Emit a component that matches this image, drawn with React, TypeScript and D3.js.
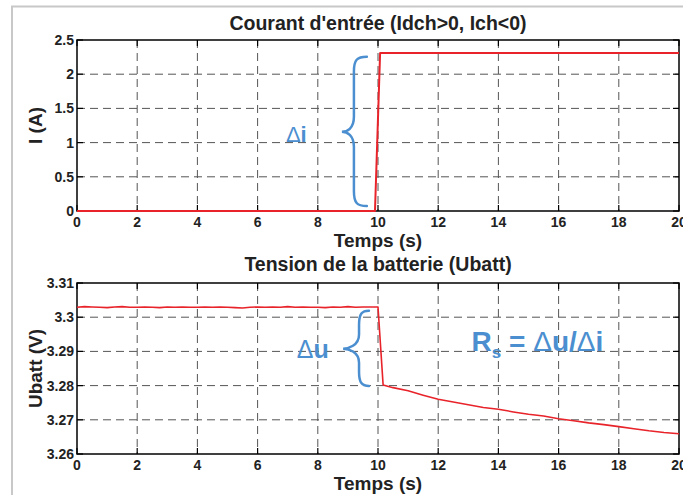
import React from "react";
import * as d3 from "d3";

const W = 683;
const H = 495;

// Top chart: input current
const currentTime = [0, 9.9, 10.07, 20];
const currentValue = [0, 0, 2.31, 2.31];

// Bottom chart: battery voltage
const voltTime = [
  0, 0.25, 0.5, 0.75, 1, 1.25, 1.5, 1.75, 2, 2.25, 2.5, 2.75, 3, 3.25, 3.5, 3.75,
  4, 4.25, 4.5, 4.75, 5, 5.25, 5.5, 5.75, 6, 6.25, 6.5, 6.75, 7, 7.25, 7.5, 7.75,
  8, 8.25, 8.5, 8.75, 9, 9.25, 9.5, 9.75, 10,
  10.17, 10.5, 11, 11.5, 12, 12.5, 13, 13.5, 14, 14.5, 15, 15.5, 16, 16.5, 17,
  17.5, 18, 18.5, 19, 19.5, 20,
];
const voltValue = [
  3.3029, 3.3031, 3.303, 3.3029, 3.3028, 3.303, 3.3031, 3.3029, 3.3029, 3.303,
  3.3029, 3.3028, 3.303, 3.3029, 3.303, 3.3029, 3.3029, 3.303, 3.3029, 3.303,
  3.3029, 3.3028, 3.3027, 3.3029, 3.303, 3.3029, 3.303, 3.3029, 3.3031, 3.3029,
  3.303, 3.3029, 3.3029, 3.3028, 3.303, 3.3029, 3.3031, 3.3029, 3.303, 3.303,
  3.303,
  3.2802, 3.2794, 3.2785, 3.2772, 3.276, 3.2752, 3.2744, 3.2736, 3.2731, 3.2723,
  3.2716, 3.2711, 3.2703, 3.2697, 3.2691, 3.2686, 3.268, 3.2674, 3.2668, 3.2663,
  3.2659,
];

const xTicks = [0, 2, 4, 6, 8, 10, 12, 14, 16, 18, 20];
const currentTicks = [0, 0.5, 1, 1.5, 2, 2.5];
const currentTickLabels = ["0", "0.5", "1", "1.5", "2", "2.5"];
const voltTicks = [3.26, 3.27, 3.28, 3.29, 3.3, 3.31];
const voltTickLabels = ["3.26", "3.27", "3.28", "3.29", "3.3", "3.31"];

const titleTop = "Courant d'entrée (Idch>0, Ich<0)";
const titleBottom = "Tension de la batterie (Ubatt)";
const xLabel = "Temps (s)";
const yLabelTop = "I (A)";
const yLabelBottom = "Ubatt (V)";

const FONT = "'Liberation Sans', Arial, Helvetica, sans-serif";
const RED = "#e8232a";
const BLUE = "#4b8fd0";
const GRID = "#555";

const L = 77;
const R = 679;

type PanelProps = {
  top: number;
  bottom: number;
  domain: [number, number];
  ticks: number[];
  tickLabels: string[];
  title: string;
  titleY: number;
  yLabel: string;
  xs: number[];
  ys: number[];
  lineWidth: number;
  children?: (x: d3.ScaleLinear<number, number>, y: d3.ScaleLinear<number, number>) => React.ReactNode;
};

function Panel(p: PanelProps) {
  const x = d3.scaleLinear().domain([0, 20]).range([L, R]);
  const y = d3.scaleLinear().domain(p.domain).range([p.bottom, p.top]);
  const line = d3
    .line<number>()
    .x((_, i) => x(p.xs[i]))
    .y((d) => y(d));
  const tickLen = 6;
  return (
    <g>
      {/* grid */}
      {xTicks.slice(1, -1).map((t) => (
        <line key={"gx" + t} x1={x(t)} x2={x(t)} y1={p.top} y2={p.bottom}
          stroke={GRID} strokeWidth={1} strokeDasharray="8,5" />
      ))}
      {p.ticks.slice(1, -1).map((t) => (
        <line key={"gy" + t} x1={L} x2={R} y1={y(t)} y2={y(t)}
          stroke={GRID} strokeWidth={1} strokeDasharray="8,5" />
      ))}
      {/* ticks */}
      {xTicks.map((t) => (
        <g key={"tx" + t}>
          <line x1={x(t)} x2={x(t)} y1={p.bottom} y2={p.bottom - tickLen} stroke="#000" strokeWidth={1.2} />
          <line x1={x(t)} x2={x(t)} y1={p.top} y2={p.top + tickLen} stroke="#000" strokeWidth={1.2} />
        </g>
      ))}
      {p.ticks.map((t) => (
        <g key={"ty" + t}>
          <line x1={L} x2={L + tickLen} y1={y(t)} y2={y(t)} stroke="#000" strokeWidth={1.2} />
          <line x1={R} x2={R - tickLen} y1={y(t)} y2={y(t)} stroke="#000" strokeWidth={1.2} />
        </g>
      ))}
      {/* box */}
      <rect x={L} y={p.top} width={R - L} height={p.bottom - p.top} fill="none" stroke="#000" strokeWidth={1.5} />
      {/* data */}
      <path d={line(p.ys) || ""} fill="none" stroke={RED} strokeWidth={p.lineWidth} strokeLinejoin="round" />
      {/* tick labels */}
      {xTicks.map((t) => (
        <text key={"lx" + t} x={x(t)} y={p.bottom + 16} textAnchor="middle"
          fontFamily={FONT} fontWeight="bold" fontSize={14} fill="#222">{t}</text>
      ))}
      {p.ticks.map((t, i) => (
        <text key={"ly" + t} x={L - 3} y={y(t) + 5} textAnchor="end"
          fontFamily={FONT} fontWeight="bold" fontSize={14} fill="#222">{p.tickLabels[i]}</text>
      ))}
      {/* titles */}
      <text x={(L + R) / 2} y={p.titleY} textAnchor="middle" fontFamily={FONT}
        fontWeight="bold" fontSize={19.5} fill="#222">{p.title}</text>
      <text x={(L + R) / 2} y={p.bottom + 36} textAnchor="middle" fontFamily={FONT}
        fontWeight="bold" fontSize={19} fill="#222">{xLabel}</text>
      <text transform={`translate(42,${(p.top + p.bottom) / 2}) rotate(-90)`} textAnchor="middle"
        fontFamily={FONT} fontWeight="bold" fontSize={19} fill="#222">{p.yLabel}</text>
      {p.children ? p.children(x, y) : null}
    </g>
  );
}

function brace(xEnd: number, xStem: number, xTip: number, yTop: number, yMid: number, yBot: number) {
  const r1 = Math.min(10, (yMid - yTop) / 4);
  const r2 = Math.min(10, (yBot - yMid) / 4);
  return [
    `M${xEnd},${yTop}`,
    `C${xStem + 3},${yTop} ${xStem},${yTop + 3} ${xStem},${yTop + r1 * 1.5}`,
    `L${xStem},${yMid - r1 * 1.5}`,
    `C${xStem},${yMid - 3} ${xTip + 5},${yMid} ${xTip},${yMid}`,
    `C${xTip + 5},${yMid} ${xStem},${yMid + 3} ${xStem},${yMid + r2 * 1.5}`,
    `L${xStem},${yBot - r2 * 1.5}`,
    `C${xStem},${yBot - 3} ${xStem + 3},${yBot} ${xEnd},${yBot}`,
  ].join(" ");
}

export default function App() {
  return (
    <svg width={W} height={H} viewBox={`0 0 ${W} ${H}`}
      style={{ position: "absolute", left: 0, top: 0, background: "#fff" }}>
      <rect x={0} y={0} width={W} height={H} fill="#fff" />
      {/* figure frame */}
      <path d={`M12,${H} L12,6.5 L${W},6.5`} fill="none" stroke="#c8c8c8" strokeWidth={2} />
      <Panel top={40} bottom={211} domain={[0, 2.5]} ticks={currentTicks} tickLabels={currentTickLabels}
        title={titleTop} titleY={30} yLabel={yLabelTop} xs={currentTime} ys={currentValue} lineWidth={2}>
        {(x, y) => (
          <g>
            <path d={brace(x(9.63), x(9.2), x(8.8), y(2.255), y(1.157), y(0.073))}
              fill="none" stroke={BLUE} strokeWidth={2.5} strokeLinecap="round" />
            <text x={x(6.94)} y={y(1.01)} fontFamily={FONT} fontSize={22} fill={BLUE}>
              <tspan>Δ</tspan><tspan fontWeight="bold">i</tspan>
            </text>
          </g>
        )}
      </Panel>
      <Panel top={283} bottom={454} domain={[3.26, 3.31]} ticks={voltTicks} tickLabels={voltTickLabels}
        title={titleBottom} titleY={271} yLabel={yLabelBottom} xs={voltTime} ys={voltValue} lineWidth={1.6}>
        {(x, y) => (
          <g>
            <path d={brace(x(9.7), x(9.37), x(8.84), y(3.3019), y(3.2908), y(3.2799))}
              fill="none" stroke={BLUE} strokeWidth={2.5} strokeLinecap="round" />
            <text x={x(7.3)} y={y(3.2881)} fontFamily={FONT} fontSize={25} fill={BLUE}>
              <tspan>Δ</tspan><tspan fontWeight="bold">u</tspan>
            </text>
            <text x={x(13.11)} y={y(3.2902)} fontFamily={FONT} fontWeight="bold" fontSize={28} fill={BLUE}>
              <tspan>R</tspan>
              <tspan fontSize={17} dy={7}>s</tspan>
              <tspan dy={-7}>{" = "}</tspan>
              <tspan fontWeight="normal">Δ</tspan>
              <tspan>u/</tspan>
              <tspan fontWeight="normal">Δ</tspan>
              <tspan>i</tspan>
            </text>
          </g>
        )}
      </Panel>
    </svg>
  );
}
